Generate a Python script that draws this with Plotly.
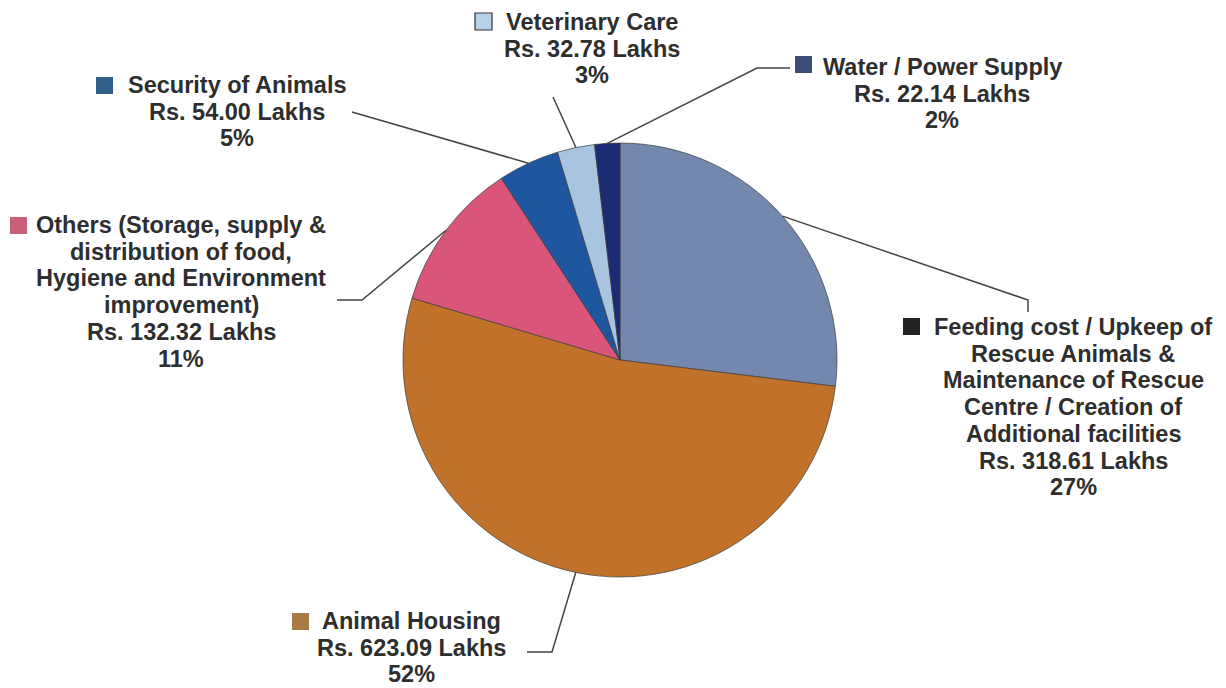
import numpy as np
import plotly.graph_objects as go

# ---- data ----
categories = [
    "Feeding cost / Upkeep of Rescue Animals & Maintenance of Rescue Centre / Creation of Additional facilities",
    "Animal Housing",
    "Others (Storage, supply & distribution of food, Hygiene and Environment improvement)",
    "Security of Animals",
    "Veterinary Care",
    "Water / Power Supply",
]
values_lakhs = [318.61, 623.09, 132.32, 54.00, 32.78, 22.14]
percent_labels = ["27%", "52%", "11%", "5%", "3%", "2%"]
label_lines = [
    ["Feeding cost / Upkeep of", "Rescue Animals &", "Maintenance of Rescue",
     "Centre / Creation of", "Additional facilities"],
    ["Animal Housing"],
    ["Others (Storage, supply &", "distribution of food,", "Hygiene and Environment",
     "improvement)"],
    ["Security of Animals"],
    ["Veterinary Care"],
    ["Water / Power Supply"],
]
slice_colors = ["#7487ad", "#c0722a", "#d9567a", "#1e56a0", "#a9c4e0", "#1c2b74"]
marker_colors = ["#222222", "#a87a45", "#c8607a", "#2f5f8a", "#b8d0e8", "#3d4d78"]

# ---- layout constants (pixels) ----
W, H = 1226, 688
CX, CY, R = 620, 360, 217
LINE_GAP = 26.7

def px(x, y):
    return x / W, 1 - y / H

# label first-line centres, marker boxes, leader elbows (pixels)
label_pos = [(1073, 327), (411, 621), (181, 225), (237, 85), (592, 22), (942, 67)]
marker_box = [(903, 318), (292, 613), (10, 217), (96, 77), (475, 13), (795, 56)]
elbows = [
    [(1028, 300), (1028, 312)],
    [(552, 652), (527, 652)],
    [(362, 300), (337, 300)],
    [(352, 112)],
    [(553, 97)],
    [(757, 68), (790, 68)],
]

fig = go.Figure(go.Pie(
    labels=categories,
    values=values_lakhs,
    sort=False,
    direction="clockwise",
    rotation=0,
    marker=dict(colors=slice_colors, line=dict(color="rgba(60,60,60,0.7)", width=1)),
    textinfo="none",
    hoverinfo="label+value+percent",
    showlegend=False,
    domain=dict(x=[(CX - R) / W, (CX + R) / W], y=[1 - (CY + R) / H, 1 - (CY - R) / H]),
))

vals = np.array(values_lakhs)
cum = np.cumsum(vals) / vals.sum()
mids = cum - (vals / vals.sum()) / 2

shapes = []
annotations = []
for i in range(len(categories)):
    theta = 2 * np.pi * mids[i]
    ax = CX + R * np.sin(theta)
    ay = CY - R * np.cos(theta)
    pts = [(ax, ay)] + elbows[i]
    path = "M " + " L ".join(f"{px(x, y)[0]:.5f},{px(x, y)[1]:.5f}" for x, y in pts)
    shapes.append(dict(type="path", path=path, xref="paper", yref="paper",
                       line=dict(color="#444444", width=1.5)))
    mx, my = marker_box[i]
    x0, y1 = px(mx, my)
    x1, y0 = px(mx + 17, my + 17)
    shapes.append(dict(type="rect", xref="paper", yref="paper", x0=x0, x1=x1, y0=y0, y1=y1,
                       fillcolor=marker_colors[i],
                       line=dict(color="#333333", width=1.2 if i == 4 else 0)))
    lines = label_lines[i] + [f"Rs. {values_lakhs[i]:.2f} Lakhs", percent_labels[i]]
    lx0, ly0 = label_pos[i]
    for k, line in enumerate(lines):
        lx, ly = px(lx0, ly0 + k * LINE_GAP)
        annotations.append(dict(
            text=f"<b>{line}</b>", x=lx, y=ly, xref="paper", yref="paper",
            xanchor="center", yanchor="middle", align="center", showarrow=False,
            font=dict(family="Liberation Sans, Arial, sans-serif", size=23.5, color="#2e2e2e"),
        ))

fig.update_layout(
    width=W, height=H, autosize=False,
    margin=dict(l=0, r=0, t=0, b=0),
    paper_bgcolor="white", plot_bgcolor="white",
    shapes=shapes, annotations=annotations,
)

fig.write_html("out.html", config={"displayModeBar": False},
               post_script="document.body.style.margin='0';")
